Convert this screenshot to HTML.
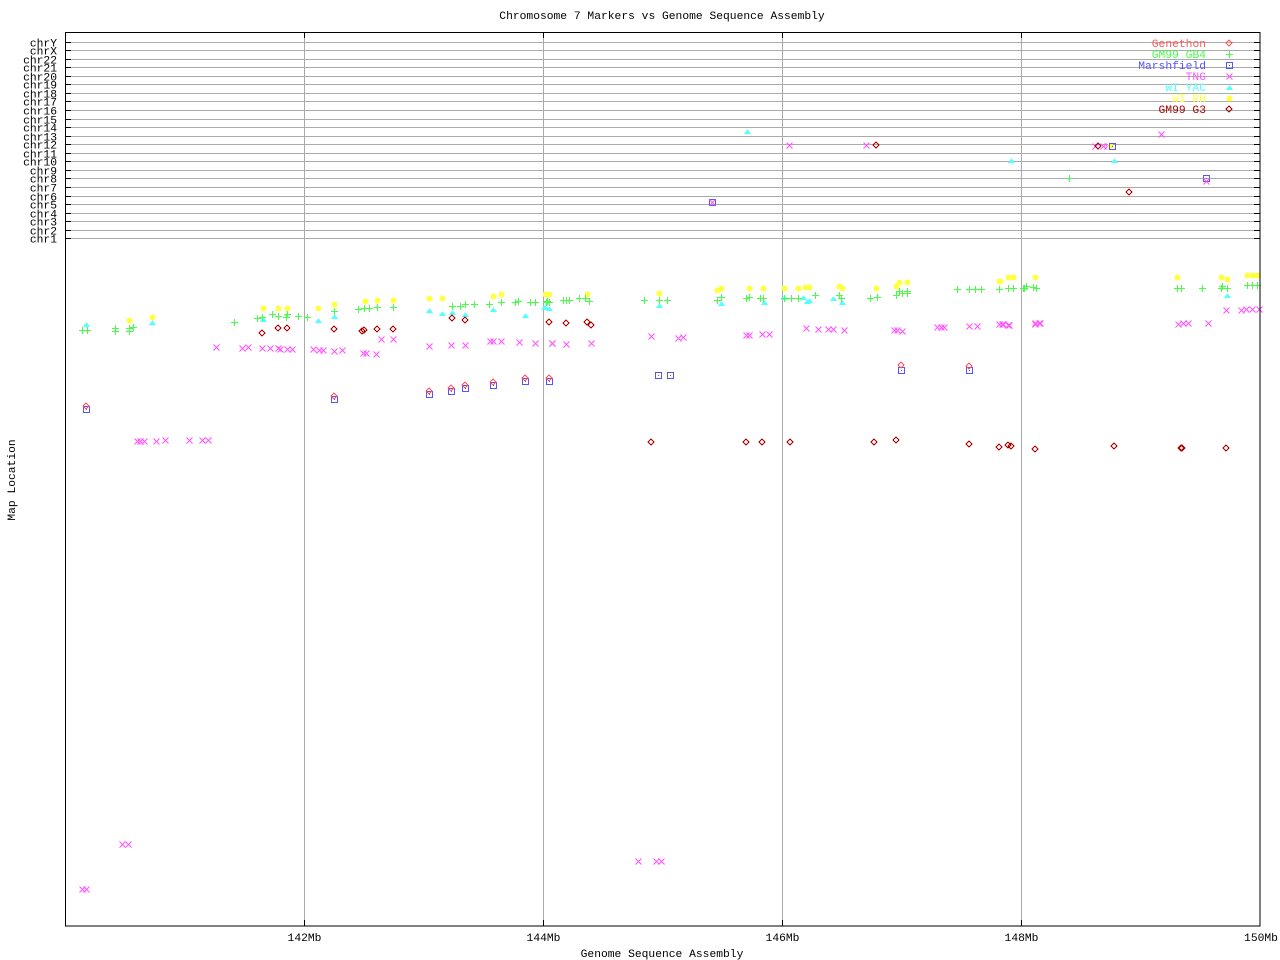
<!DOCTYPE html>
<html><head><meta charset="utf-8"><style>
body{margin:0;background:#fff;}
svg{display:block;}
text{font-family:"Liberation Mono","DejaVu Sans Mono",monospace;font-size:11.3px;}
</style></head><body>
<svg id="s" width="1280" height="960" xmlns="http://www.w3.org/2000/svg" shape-rendering="crispEdges">
<rect width="1280" height="960" fill="#fff"/>
<text x="662" y="19" text-anchor="middle">Chromosome 7 Markers vs Genome Sequence Assembly</text>
<text x="662" y="957" text-anchor="middle">Genome Sequence Assembly</text>
<text transform="translate(15,480) rotate(-90)" text-anchor="middle">Map Location</text>
<g id="grid"></g>
<g id="pts"></g>
<rect x="65.5" y="32.5" width="1194.5" height="893.5" fill="none" stroke="#000" stroke-width="1"/>
<g id="leg"></g>
</svg>
<script>
var NS="http://www.w3.org/2000/svg";
function el(p,t,a,txt){var e=document.createElementNS(NS,t);for(var k in a)e.setAttribute(k,a[k]);if(txt)e.textContent=txt;document.getElementById(p).appendChild(e);return e;}
var chrs=["chrY","chrX","chr22","chr21","chr20","chr19","chr18","chr17","chr16","chr15","chr14","chr13","chr12","chr11","chr10","chr9","chr8","chr7","chr6","chr5","chr4","chr3","chr2","chr1"];
for(var i=0;i<chrs.length;i++){var y=Math.round(41.5+i*8.56)+0.5;
 el("grid","line",{x1:66,x2:1260,y1:y,y2:y,stroke:"#aaa"});
 el("grid","line",{x1:66,x2:71,y1:y,y2:y,stroke:"#000"});
 el("grid","line",{x1:1254,x2:1260,y1:y,y2:y,stroke:"#000"});
 el("grid","text",{x:57,y:y+4,"text-anchor":"end"},chrs[i]);}
var xs=[[304.5,"142Mb"],[543.5,"144Mb"],[782.5,"146Mb"],[1021.5,"148Mb"]];
xs.forEach(function(a){el("grid","line",{x1:a[0],x2:a[0],y1:33,y2:926,stroke:"#aaa"});
 el("grid","line",{x1:a[0],x2:a[0],y1:33,y2:38,stroke:"#000"});
 el("grid","line",{x1:a[0],x2:a[0],y1:920,y2:926,stroke:"#000"});
 el("grid","text",{x:a[0],y:941,"text-anchor":"middle"},a[1]);});
el("grid","text",{x:1261,y:941,"text-anchor":"middle"},"150Mb");
function mk(g,type,x,y){x=Math.round(x);y=Math.round(y);var c;
 if(type=="D"||type=="G"){c=type=="D"?"#f55":"#a00";el(g,"polygon",{points:(x)+","+(y-3)+" "+(x+3)+","+y+" "+x+","+(y+3)+" "+(x-3)+","+y,fill:"none",stroke:c});}
 else if(type=="P"){el(g,"path",{d:"M"+(x-3)+" "+(y+.5)+"H"+(x+4)+"M"+(x+.5)+" "+(y-3)+"V"+(y+4),stroke:"#4f4","stroke-width":1.4});}
 else if(type=="S"){el(g,"rect",{x:x-2.5,y:y-2.5,width:6,height:6,fill:"none",stroke:"#55f"});el(g,"rect",{x:x,y:y,width:1,height:1,fill:"#55f"});}
 else if(type=="X"){el(g,"path",{d:"M"+(x-2.5)+" "+(y-2.5)+"L"+(x+3.5)+" "+(y+3.5)+"M"+(x+3.5)+" "+(y-2.5)+"L"+(x-2.5)+" "+(y+3.5),stroke:"#f5f","stroke-width":1.1,"shape-rendering":"auto"});}
 else if(type=="T"){el(g,"polygon",{points:(x-3)+","+(y+3)+" "+(x+4)+","+(y+3)+" "+(x+.5)+","+(y-2),fill:"#5ff"});}
 else if(type=="Y"){el(g,"circle",{cx:x+.5,cy:y+.5,r:3,fill:"#ff4"});}}
function Z(type,ox,oy,arr){for(var i=0;i<arr.length;i+=2)mk("pts",type,ox+arr[i]/3,oy+arr[i+1]/3);}
// zoom3 offset 60,260
Z("Y",60,260,[208,181,277,172,608,145,655,145,680,145,775,145,823,133,916,124,950,121,1000,121,1108,115,1147,115,1300,109,1322,103,1455,103,1468,103]);
Z("Y",540,260,[15,103,28,103,142,103,356,98,532,91,544,85,628,85,668,85,731,85,775,85,795,82,808,82,898,79,907,85,1009,85,1069,79,1076,67,1100,67,1378,64,1404,52,1420,52,1486,52]);
Z("Y",1000,260,[0,63,25,52,40,52,106,52,532,52,663,52,680,58,742,46,757,46,772,46]);
Z("T",60,260,[79,192,277,186,608,177,775,181,823,168,1108,151,1147,159,1175,157,1216,162,1300,147,1396,165,1455,142,1468,145]);
Z("T",540,260,[12,141,28,144,356,136,544,129,673,126,731,111,790,111,800,123,808,121,878,114,907,126]);
Z("T",1000,260,[680,104]);
Z("P",60,260,[65,210,80,210,166,203,166,212,208,203,220,201,208,212,522,187,592,175,607,172,637,162,655,167,680,163,678,170,715,169,740,172,823,153,895,148,913,145,928,145,950,142,1000,142,1175,138,1200,139,1216,133,1243,133,1288,133,1322,127,1365,127,1375,122,1410,127,1425,127,1460,122,1468,127]);
Z("P",540,260,[18,125,28,127,68,121,78,121,88,121,118,115,135,115,146,122,313,121,356,121,382,121,532,119,544,111,618,114,628,112,660,115,668,115,731,114,752,115,775,115,826,106,898,106,903,114,989,115,1010,112,1067,105,1076,93,1085,99,1100,93,1101,100,1252,88,1288,88,1306,88,1323,88,1376,88,1404,85,1420,85,1451,85,1458,79,1480,82]);
Z("P",1000,260,[25,85,40,85,70,85,77,79,100,82,107,85,530,85,542,85,607,85,663,85,667,78,682,85,740,75,757,75,772,75]);
Z("G",60,260,[607,220,655,205,682,205,823,208,905,213,913,211,950,208,1000,208,1175,175,1216,181,1468,186]);
Z("G",540,260,[28,186,78,188,142,187,154,196,334,547,619,547,667,547,751,547,1003,547,1069,541,1288,553,1378,562,1404,556,1414,559,1486,568]);
Z("G",1000,260,[25,556,33,559,106,568,343,559,542,565,547,565,679,565]);
Z("X",60,260,[469,262,545,265,565,262,607,265,631,265,655,265,660,268,682,268,697,268,758,268,776,271,788,271,823,274,846,271,910,280,918,280,948,283,964,238,1000,238,1108,259,1173,256,1216,256,1290,244,1300,244,1322,244,1378,247,1426,250,1477,250,230,544,240,544,252,544,289,544,316,541,386,541,426,541,445,541]);
Z("X",540,260,[37,250,78,253,154,250,334,229,414,235,430,232,619,226,628,226,667,223,688,223,799,205,835,208,863,208,878,208,913,211,1061,211,1070,211,1085,214,1190,202,1202,202,1212,202,1288,199,1312,199,1376,193,1390,193,1406,196,1486,193,1496,190]);
Z("X",1000,260,[5,193,25,196,106,190,120,190,534,193,548,190,565,190,625,190,679,151,723,151,738,148,755,148,776,148]);
Z("X",0,0,[246,2667,258,2667,366,2532,384,2532,1914,2583,1968,2583,1983,2583]);
Z("S",60,260,[79,448,823,418,1108,402,1174,393,1216,384,1300,375,1396,363,1468,363]);
Z("S",540,260,[28,364,355,346,391,346,1084,331,1288,331]);
Z("D",60,260,[79,438,823,407,1108,392,1174,384,1216,375,1300,365,1396,354,1468,354]);
Z("D",540,260,[28,355,1084,316,1288,319]);
// top region
mk("pts","T",747,131);mk("pts","X",789,145);mk("pts","X",866,145);mk("pts","G",876,145);
mk("pts","T",1011,160);mk("pts","X",1095,146);mk("pts","G",1098,146);mk("pts","X",1103,146);mk("pts","X",1107,146);mk("pts","Y",1110,146);mk("pts","S",1112,146);
mk("pts","X",1161,134);mk("pts","T",1114,160);mk("pts","P",1069,178);mk("pts","G",1129,192);
mk("pts","S",712,202);mk("pts","X",712,202);mk("pts","S",1206,178);mk("pts","X",1206,181);
// legend
var L=[["Genethon","#f55","D"],["GM99 GB4","#4f4","P"],["Marshfield","#55f","S"],["TNG","#f5f","X"],["WI YAC","#5ff","T"],["WI RH","#ff4","Y"],["GM99 G3","#a00","G"]];
L.forEach(function(a,i){var y=43+i*11;el("leg","text",{x:1206,y:y+4,"text-anchor":"end",fill:a[1]},a[0]);mk("leg",a[2],1229,y);});
</script>
</body></html>
